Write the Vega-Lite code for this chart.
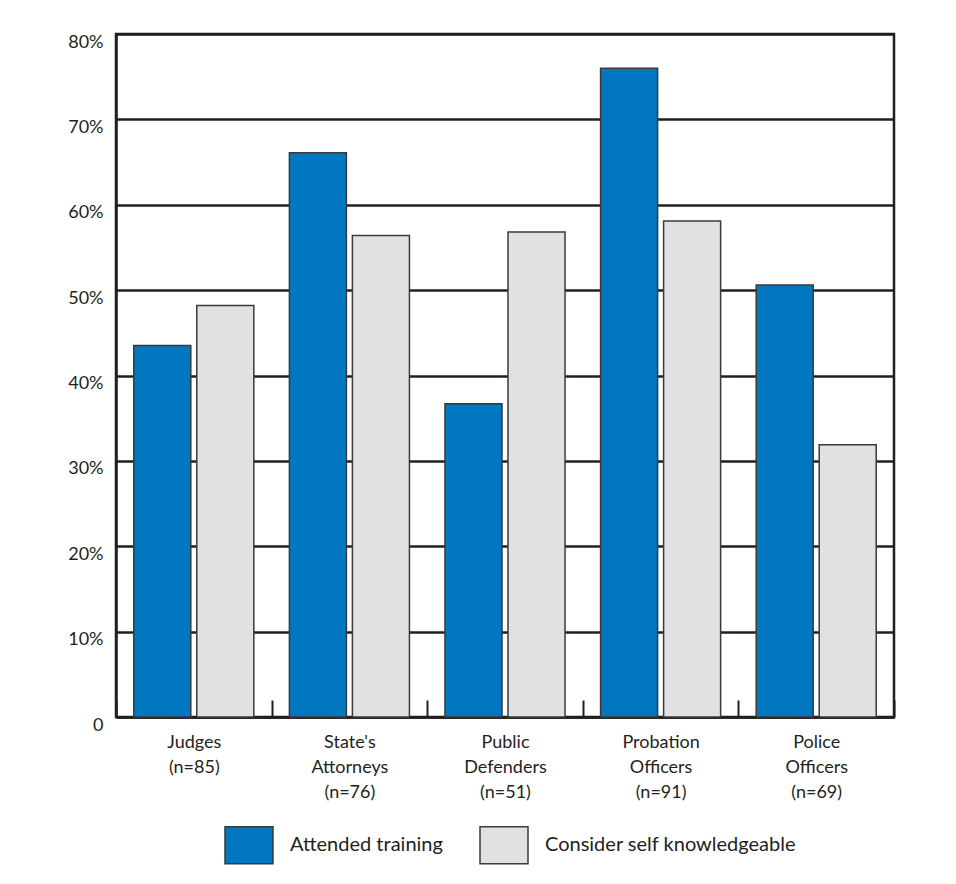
{
  "$schema": "https://vega.github.io/schema/vega-lite/v6.json",
  "width": 778,
  "height": 683,
  "autosize": {"type": "none"},
  "padding": {"left": 116, "top": 34, "right": 62, "bottom": 167},
  "background": "white",
  "config": {
    "font": "Lato",
    "view": {"stroke": "#231f20", "strokeWidth": 2.5},
    "axis": {"labelColor": "#231f20", "labelFont": "Lato"},
    "legend": {"labelColor": "#231f20", "labelFont": "Lato"}
  },
  "data": {
    "values": [
      {"group": "Judges (n=85)", "series": "Attended training", "pct": 43.5},
      {"group": "Judges (n=85)", "series": "Consider self knowledgeable", "pct": 48.2},
      {"group": "State's Attorneys (n=76)", "series": "Attended training", "pct": 66.1},
      {"group": "State's Attorneys (n=76)", "series": "Consider self knowledgeable", "pct": 56.4},
      {"group": "Public Defenders (n=51)", "series": "Attended training", "pct": 36.7},
      {"group": "Public Defenders (n=51)", "series": "Consider self knowledgeable", "pct": 56.8},
      {"group": "Probation Officers (n=91)", "series": "Attended training", "pct": 76.0},
      {"group": "Probation Officers (n=91)", "series": "Consider self knowledgeable", "pct": 58.1},
      {"group": "Police Officers (n=69)", "series": "Attended training", "pct": 50.6},
      {"group": "Police Officers (n=69)", "series": "Consider self knowledgeable", "pct": 31.9}
    ]
  },
  "mark": {"type": "bar", "stroke": "#3a3a3a", "strokeWidth": 1.5},
  "encoding": {
    "x": {
      "field": "group",
      "type": "nominal",
      "sort": null,
      "scale": {"paddingInner": 0, "paddingOuter": 0},
      "axis": {
        "title": null,
        "labelAngle": 0,
        "labelExpr": "split(datum.label, ' ')",
        "labelFontSize": 18,
        "labelLineHeight": 25,
        "labelBaseline": "top",
        "labelPadding": 33,
        "tickBand": "extent",
        "tickSize": -17,
        "tickWidth": 2,
        "tickColor": "#231f20",
        "domainColor": "#231f20",
        "domainWidth": 2.5
      }
    },
    "xOffset": {
      "field": "series",
      "type": "nominal",
      "scale": {"paddingInner": 0.095, "paddingOuter": 0.282}
    },
    "y": {
      "field": "pct",
      "type": "quantitative",
      "scale": {"domain": [0, 80], "nice": false},
      "axis": {
        "title": null,
        "values": [0, 10, 20, 30, 40, 50, 60, 70, 80],
        "labelExpr": "datum.value == 0 ? '0' : datum.value + '%'",
        "labelFontSize": 18,
        "labelPadding": 13,
        "labelOffset": 8,
        "ticks": false,
        "grid": true,
        "gridColor": "#231f20",
        "gridWidth": 2.5,
        "gridOpacity": 1,
        "domainColor": "#231f20",
        "domainWidth": 2.5
      }
    },
    "fill": {
      "field": "series",
      "type": "nominal",
      "scale": {
        "domain": ["Attended training", "Consider self knowledgeable"],
        "range": ["#0077c0", "#e0e1e3"]
      },
      "legend": {
        "title": null,
        "orient": "none",
        "direction": "horizontal",
        "legendX": 108,
        "legendY": 786,
        "padding": 0,
        "symbolType": "M-1,-0.77H1V0.77H-1Z",
        "symbolSize": 2304,
        "symbolStrokeColor": "#3a3a3a",
        "symbolStrokeWidth": 1.5,
        "symbolOpacity": 1,
        "labelFontSize": 20,
        "labelLimit": 400,
        "labelOffset": 16,
        "columnPadding": 34
      }
    }
  }
}
